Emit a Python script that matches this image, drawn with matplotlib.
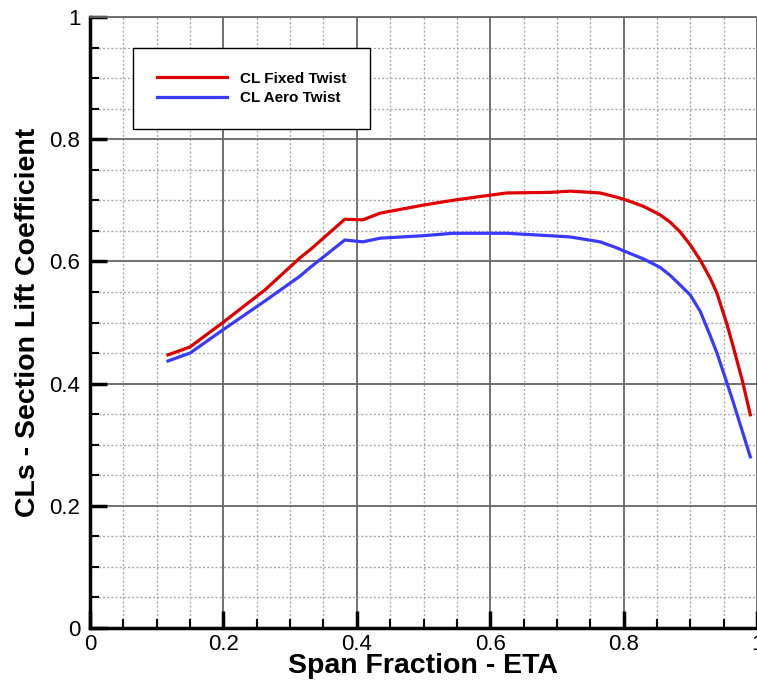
import numpy as np
import matplotlib
matplotlib.use('Agg')
import matplotlib.pyplot as plt
from matplotlib.ticker import MultipleLocator

plt.rcParams['font.family'] = ['Liberation Sans', 'DejaVu Sans']

# span fraction stations
eta = [0.117, 0.15, 0.198, 0.262, 0.315, 0.33, 0.382, 0.409, 0.435, 0.499,
       0.544, 0.604, 0.625, 0.69, 0.72, 0.765, 0.79, 0.805, 0.83, 0.855,
       0.87, 0.885, 0.90, 0.915, 0.93, 0.94, 0.955, 0.964, 0.978, 0.99]
cl_fixed = [0.447, 0.46, 0.499, 0.553, 0.606, 0.619, 0.669, 0.668, 0.679, 0.692,
            0.700, 0.709, 0.712, 0.713, 0.715, 0.712, 0.705, 0.700, 0.690, 0.676,
            0.664, 0.648, 0.627, 0.602, 0.572, 0.548, 0.497, 0.462, 0.405, 0.349]
cl_aero = [0.437, 0.45, 0.487, 0.535, 0.576, 0.590, 0.635, 0.632, 0.638, 0.642,
           0.646, 0.646, 0.646, 0.642, 0.640, 0.632, 0.622, 0.615, 0.604, 0.59,
           0.577, 0.561, 0.545, 0.518, 0.478, 0.45, 0.401, 0.371, 0.322, 0.28]
labels = ['CL Fixed Twist', 'CL Aero Twist']

fig = plt.figure(figsize=(7.57, 6.84), dpi=100)
ax = fig.add_axes([90/757, 56/684, 667/757, 611/684])

ax.plot(eta, cl_fixed, color='#e00000', lw=2.3, label=labels[0], zorder=3)
ax.plot(eta, cl_aero, color='#3a3aff', lw=2.3, label=labels[1], zorder=3)

ax.set_xlim(0, 1)
ax.set_ylim(0, 1)
ax.xaxis.set_major_locator(MultipleLocator(0.2))
ax.yaxis.set_major_locator(MultipleLocator(0.2))
ax.xaxis.set_minor_locator(MultipleLocator(0.05))
ax.yaxis.set_minor_locator(MultipleLocator(0.05))
ax.xaxis.set_major_formatter(lambda v, p: '%g' % round(v, 2))
ax.yaxis.set_major_formatter(lambda v, p: '%g' % round(v, 2))

ax.grid(which='major', color='#666666', lw=1.3, ls='-')
ax.grid(which='minor', color='#aaaaaa', lw=1.0, ls=(0, (1.5, 1.5)))
ax.set_axisbelow(True)

for s in ['left', 'bottom']:
    ax.spines[s].set_linewidth(2.5)
ax.spines['top'].set_color('#666666')
ax.spines['top'].set_linewidth(1.3)
ax.spines['right'].set_color('#666666')

ax.tick_params(which='major', direction='in', length=12, width=2.5,
               labelsize=16, pad=7, top=False, right=False)
ax.tick_params(axis='x', which='major', pad=4)
ax.tick_params(which='minor', direction='in', length=6.5, width=1.5,
               top=False, right=False)

ax.set_xlabel('Span Fraction - ETA', fontsize=20.5, fontweight='bold', labelpad=-1)
ax.set_ylabel('CLs - Section Lift Coefficient', fontsize=20.5, fontweight='bold', labelpad=6)

leg = ax.legend(loc='upper left', bbox_to_anchor=(0.0645, 0.949),
                borderaxespad=0, prop={'size': 11, 'weight': 'bold'},
                handlelength=4.6, handletextpad=0.85, labelspacing=0.35,
                borderpad=1.55, fancybox=False, framealpha=1)
leg.get_frame().set_edgecolor('black')
leg.get_frame().set_linewidth(1.0)

fig.savefig('out.png', dpi=100)
